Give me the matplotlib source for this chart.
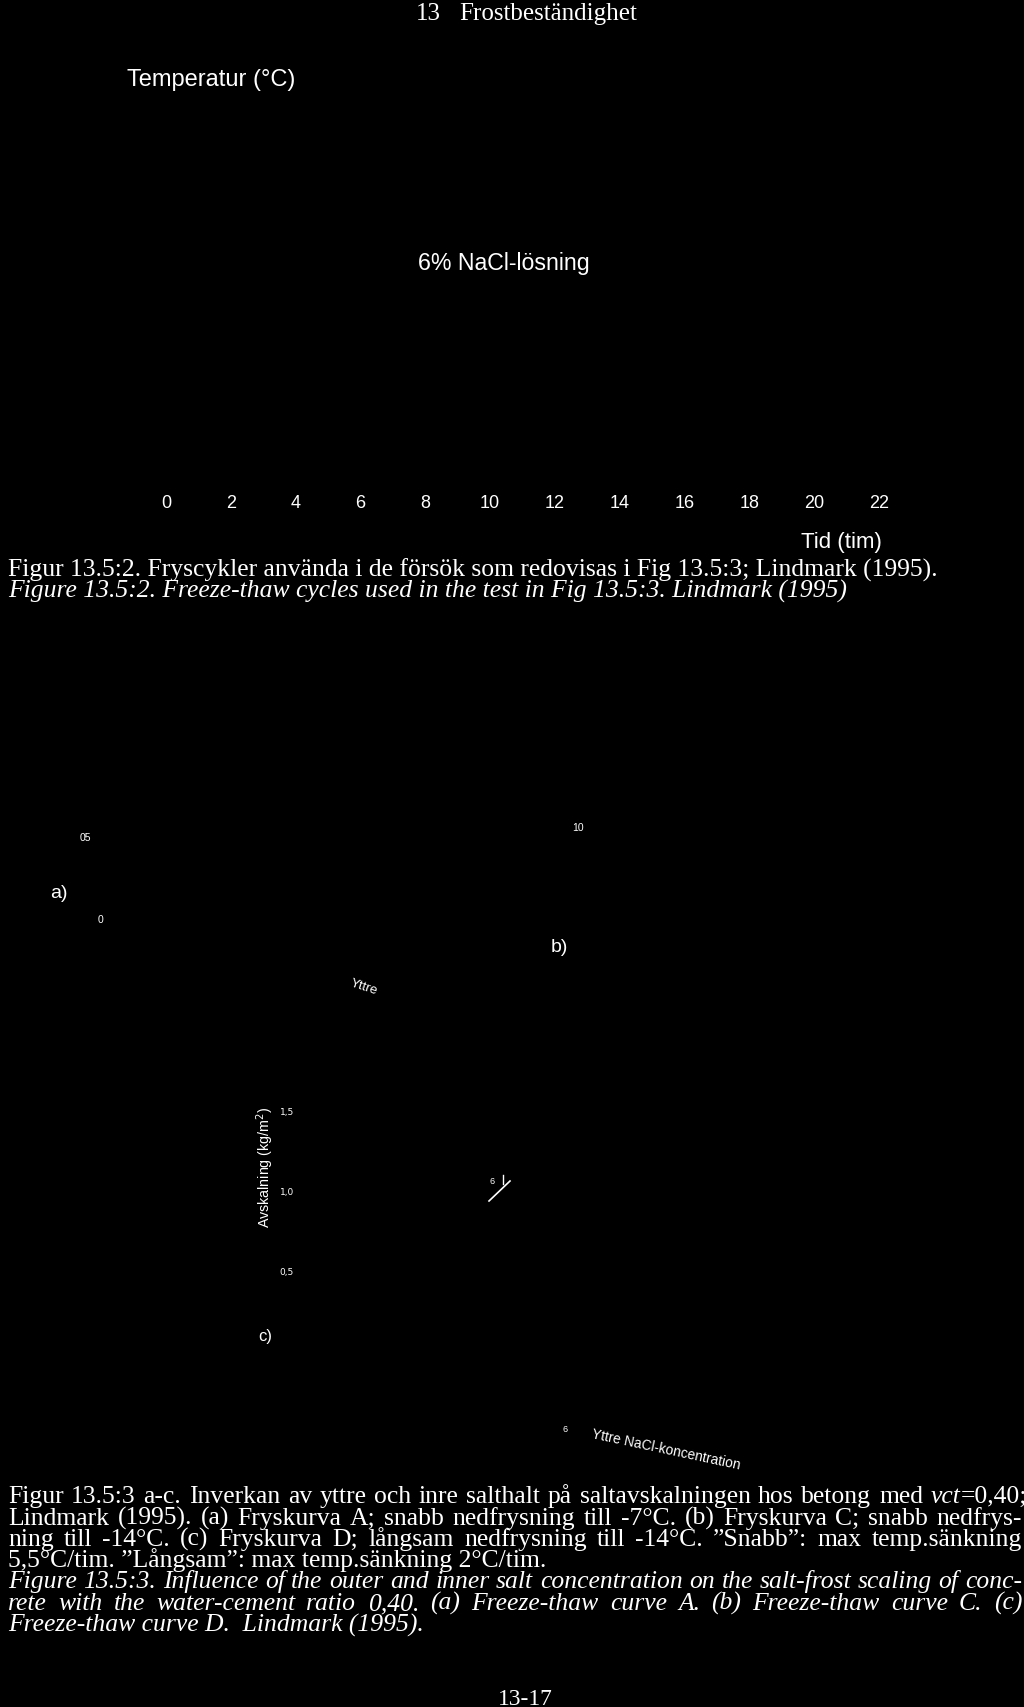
import matplotlib
matplotlib.use("Agg")
import matplotlib.pyplot as plt
from matplotlib.lines import Line2D

W, H = 1024, 1707
DPI = 100

# ---------------- data (tick values / labels / texts) ----------------
hours = [0, 2, 4, 6, 8, 10, 12, 14, 16, 18, 20, 22]
hour_labels = [str(h) for h in hours]
scaling_ticks = [0.5, 1.0, 1.5]
scaling_labels = ['0,5', '1,0', '1,5']
panel_a_ticks = ['05', '0']
panel_b_ticks = ['10']
conc_ticks = ['6', '6']
panel_letters = ['a)', 'b)', 'c)']

header_num = '13'
header_title = 'Frostbeständighet'
temp_label = 'Temperatur (°C)'
time_label = 'Tid (tim)'
solution_label = '6% NaCl-lösning'
scaling_label = 'Avskalning (kg/m$^2$)'
outer_label = 'Yttre'
outer_conc_label = 'Yttre NaCl-koncentration'
page_number = '13-17'

cap2_sv = 'Figur 13.5:2. Fryscykler använda i de försök som redovisas i Fig 13.5:3; Lindmark (1995).'
cap2_en = 'Figure 13.5:2. Freeze-thaw cycles used in the test in Fig 13.5:3. Lindmark (1995)'
cap3_lines = [
    'Figur 13.5:3 a-c. Inverkan av yttre och inre salthalt på saltavskalningen hos betong med',
    'Lindmark (1995). (a) Fryskurva A; snabb nedfrysning till -7°C. (b) Fryskurva C; snabb nedfrys-',
    'ning till -14°C. (c) Fryskurva D; långsam nedfrysning till -14°C.  ”Snabb”: max temp.sänkning',
    '5,5°C/tim. ”Långsam”: max temp.sänkning 2°C/tim.',
    'Figure 13.5:3. Influence of the outer and inner salt concentration on the salt-frost scaling of conc-',
    'rete with the water-cement ratio 0,40. (a) Freeze-thaw curve A. (b) Freeze-thaw curve C. (c)',
    'Freeze-thaw curve D.  Lindmark (1995).',
]

SERIF = ['Liberation Serif', 'DejaVu Serif']
SANS = ['Liberation Sans', 'DejaVu Sans']
WHITE = 'white'

fig = plt.figure(figsize=(W / DPI, H / DPI), dpi=DPI, facecolor='black')
renderer = fig.canvas.get_renderer()


def fx(x):
    return x / W


def fy(y):
    return 1 - y / H


def twidth(t):
    return t.get_window_extent(renderer).width


def fit(s, x0, x1, y, family, style='normal', va='baseline', size=12):
    t = fig.text(fx(x0), fy(y), s, family=family, style=style, fontsize=size,
                 color=WHITE, va=va, ha='left')
    t.set_fontsize(size * (x1 - x0) / twidth(t))
    return t


def fit_size(s, length, family, style='normal', size=12):
    t = fig.text(0, 0, s, family=family, style=style, fontsize=size)
    w = twidth(t)
    t.remove()
    return size * length / w


def place(s, x, y, size, family=SANS, style='normal', ha='center', va='center', rotation=0):
    return fig.text(fx(x), fy(y), s, family=family, style=style, fontsize=size,
                    color=WHITE, ha=ha, va=va, rotation=rotation,
                    rotation_mode='anchor')


def justify(words, x0, x1, y, fs, family=SERIF):
    arts, widths = [], []
    for word in words:
        parts = []
        for txt, st in word:
            parts.append(fig.text(0, fy(y), txt, family=family, style=st,
                                  fontsize=fs, color=WHITE, va='baseline', ha='left'))
        widths.append(sum(twidth(p) for p in parts))
        arts.append(parts)
    gap = (x1 - x0 - sum(widths)) / max(len(words) - 1, 1)
    x = x0
    for parts, w in zip(arts, widths):
        xx = x
        for p in parts:
            p.set_x(fx(xx))
            xx += twidth(p)
        x += w + gap


def words_of(s, style='normal'):
    return [[(w, style)] for w in s.split()]


# ---------------- header ----------------
hdr = fit(header_title, 459, 637, 20, SERIF)
fig.text(fx(416), fy(20), header_num, family=SERIF, fontsize=hdr.get_fontsize(),
         color=WHITE, va='baseline', ha='left')

# ---------------- Fig 13.5:2 temperature cycle axes ----------------
ax = fig.add_axes([fx(166), fy(490), fx(879) - fx(166), (490 - 100) / H])
ax.set_facecolor('black')
ax.set_xlim(0, 22)
ax.set_ylim(-25, 25)
for sp in ax.spines.values():
    sp.set_visible(False)
ax.set_xticks(hours, hour_labels)
ax.set_yticks([])
ax.tick_params(axis='x', length=0, pad=3.5, colors=WHITE, labelsize=13)
for lab in ax.get_xticklabels():
    lab.set_family(SANS)
ax.set_xlabel(time_label, color=WHITE, fontsize=16, family=SANS, ha='right', va='top')
ax.xaxis.set_label_coords(1.0 + 3 / 713, -(532 - 490) / 390)
ax.set_ylabel(temp_label, color=WHITE, fontsize=fit_size(temp_label, 169, SANS),
              family=SANS, rotation=0, ha='left', va='baseline')
ax.yaxis.set_label_coords((127 - 166) / 713, (490 - 86) / 390)
ax.text(0.5 * (418 + 591), 0, '', transform=ax.transData)
fit(solution_label, 418, 591, 270, SANS)

# ---------------- captions 13.5:2 ----------------
c2 = fit(cap2_sv, 8, 938, 577, SERIF)
FS = c2.get_fontsize()
fig.text(fx(8), fy(598), cap2_en, family=SERIF, style='italic', fontsize=FS,
         color=WHITE, va='baseline', ha='left')

# ---------------- Fig 13.5:3 panels ----------------
# panel a
place(panel_a_ticks[0], 85, 838, 7.5)
place(panel_a_ticks[1], 100, 920, 7.5)
place(panel_letters[0], 59, 893, 14)
# panel b
place(panel_b_ticks[0], 578, 828, 7.5)
place(panel_letters[1], 559, 948, 14)
place(outer_label, 364, 987, 9.5, rotation=-18)

# panel c axes
axc = fig.add_axes([fx(296), fy(1352), (560 - 296) / W, 280 / H])
axc.set_facecolor('black')
axc.set_ylim(0, 1.75)
axc.set_xlim(0, 1)
for sp in axc.spines.values():
    sp.set_visible(False)
axc.set_xticks([])
axc.set_yticks(scaling_ticks, scaling_labels)
axc.tick_params(axis='y', length=0, pad=1.5, colors=WHITE, labelsize=6.5)
axc.set_ylabel(scaling_label, color=WHITE, family=SANS,
               fontsize=fit_size('Avskalning (kg/m2)', 122, SANS), va='center', ha='center')
axc.yaxis.set_label_coords((265 - 296) / 264, (1352 - 1167) / 280)

place(conc_ticks[0], 492, 1181, 6.5)
fig.add_artist(Line2D([fx(489), fx(510)], [fy(1201), fy(1181)], color=WHITE, lw=1.2))
fig.add_artist(Line2D([fx(503), fx(503)], [fy(1175), fy(1184)], color=WHITE, lw=1.0))
place(panel_letters[2], 265, 1337, 12)
place(conc_ticks[1], 565, 1430, 6.5)
place(outer_conc_label, 666, 1450, fit_size(outer_conc_label, 151, SANS), rotation=-12)

# ---------------- captions 13.5:3 ----------------
line1 = words_of(cap3_lines[0]) + [[('vct', 'italic'), ('=0,40;', 'normal')]]
justify(line1, 8, 1027, 1503, FS)
justify(words_of(cap3_lines[1]), 8, 1022, 1525, FS)
justify(words_of(cap3_lines[2]), 8, 1022, 1546, FS)
fig.text(fx(8), fy(1567), cap3_lines[3], family=SERIF, fontsize=FS, color=WHITE,
         va='baseline', ha='left')
justify(words_of(cap3_lines[4], 'italic'), 8, 1022, 1588, FS)
justify(words_of(cap3_lines[5], 'italic'), 8, 1022, 1610, FS)
fig.text(fx(8), fy(1632), cap3_lines[6], family=SERIF, style='italic', fontsize=FS,
         color=WHITE, va='baseline', ha='left')

fit(page_number, 498, 553, 1705, SERIF)

fig.savefig('out.png', dpi=DPI, facecolor='black')
